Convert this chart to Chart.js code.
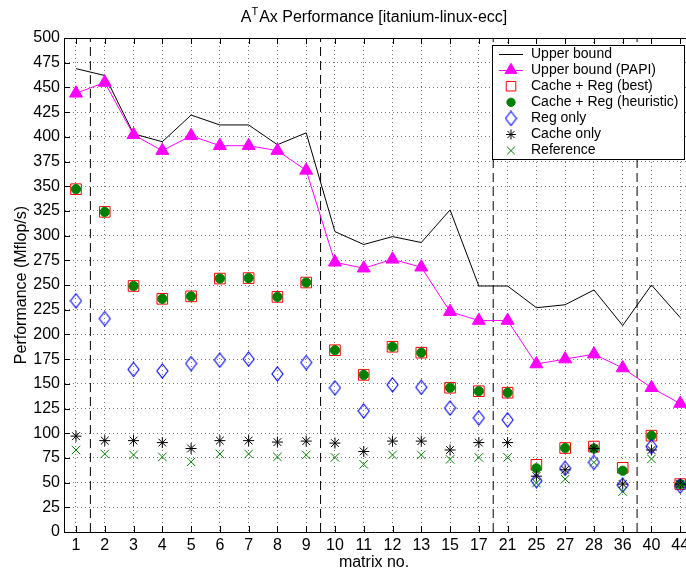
<!DOCTYPE html>
<html>
<head>
<meta charset="utf-8">
<script src="https://cdn.jsdelivr.net/npm/chart.js@4"></script>
<style>
  html, body { margin: 0; padding: 0; background: #fff; overflow: hidden; }
</style>
</head>
<body>
<canvas id="perfChart" width="686" height="578"></canvas>
<script>
// matrix numbers on the x axis (one category per slot)
const matrices = ["1", "2", "3", "4", "5", "6", "7", "8", "9", "10", "11",
  "12", "13", "15", "17", "21", "25", "27", "28", "36", "40", "44"];
// Mflop/s per matrix
const upperBound = [469, 462, 403, 395, 422, 412, 412, 392, 404, 304, 291,
  299, 293, 326, 249, 249, 227, 230, 245, 209, 250, 217];
const upperBoundPapi = [444, 455, 402, 386, 401, 391, 391, 386, 366, 273, 267,
  276, 268, 223, 214, 214, 170, 175, 180, 166, 146, 130];
const cacheRegBest = [347, 324, 249, 236, 238.5, 256.5, 257, 238, 252.5, 184, 159,
  187.5, 181.5, 146, 142.5, 141, 68, 85, 86.5, 65, 97.5, 48.5];
const cacheRegHeuristic = [347, 324, 249, 236, 238.5, 256.5, 257, 238, 252.5, 184, 159,
  187.5, 181.5, 146, 142.5, 141, 64.5, 85, 84.5, 62, 97.5, 48.5];
const regOnly = [234, 216, 164.5, 163, 170.5, 174, 175, 160, 171.5, 146, 122.5,
  149, 146.5, 125.5, 115.5, 113.5, 52, 64.5, 70.5, 47.5, 86.5, 46.5];
const cacheOnly = [97, 92.5, 92.5, 90.5, 84.5, 92.5, 92.5, 91, 92, 90, 81.5,
  92, 92, 83, 90.5, 90.5, 56.5, 63, 84.5, 48.5, 83, 48.5];
const reference = [83, 79, 78, 76, 71, 79, 79, 76, 78, 75.5, 68.5,
  78, 78, 73.5, 75.5, 75.5, 49.5, 53.5, 70.5, 41, 74, 47.5];
// dashed separators between matrix groups (in slot units)
const dividers = [1.5, 9.5, 15.5, 20.5];
const yMin = 0, yMax = 500, yStep = 25;

const FONT = "'Liberation Sans', Arial, Helvetica, sans-serif";
const toPoints = (arr) => arr.map((v, i) => ({ x: i + 1, y: v }));

// tall thin diamond like the matlab marker
function makeDiamond(w, h, color) {
  const c = document.createElement("canvas");
  c.width = w + 2;
  c.height = h + 2;
  const g = c.getContext("2d");
  g.strokeStyle = color;
  g.lineWidth = 1.1;
  g.beginPath();
  g.moveTo(c.width / 2, 1);
  g.lineTo(c.width - 1, c.height / 2);
  g.lineTo(c.width / 2, c.height - 1);
  g.lineTo(1, c.height / 2);
  g.closePath();
  g.stroke();
  return c;
}
const diamond = makeDiamond(11, 14, "#0000ff");

const series = [
  { label: "Upper bound", data: toPoints(upperBound), showLine: true,
    borderColor: "#000", backgroundColor: "#000", borderWidth: 1,
    pointRadius: 0, pointStyle: false, order: 7 },
  { label: "Upper bound (PAPI)", data: toPoints(upperBoundPapi), showLine: true,
    borderColor: "#ff00ff", backgroundColor: "#ff00ff", borderWidth: 1,
    pointStyle: "triangle", pointRadius: 7.5, pointBorderWidth: 1, order: 6 },
  { label: "Cache + Reg (best)", data: toPoints(cacheRegBest), showLine: false,
    borderColor: "#ff0000", backgroundColor: "rgba(0,0,0,0)", borderWidth: 1,
    pointStyle: "rect", pointRadius: 7.5, order: 5 },
  { label: "Cache + Reg (heuristic)", data: toPoints(cacheRegHeuristic), showLine: false,
    borderColor: "#008000", backgroundColor: "#008000", borderWidth: 1,
    pointStyle: "circle", pointRadius: 4.6, order: 4 },
  { label: "Reg only", data: toPoints(regOnly), showLine: false,
    borderColor: "#0000ff", backgroundColor: "rgba(0,0,0,0)", borderWidth: 1,
    pointStyle: diamond, pointRadius: 6, order: 3 },
  { label: "Cache only", data: toPoints(cacheOnly), showLine: false,
    borderColor: "#000", backgroundColor: "#000", borderWidth: 1,
    pointStyle: "star", pointRadius: 5.5, order: 2 },
  { label: "Reference", data: toPoints(reference), showLine: false,
    borderColor: "#008000", backgroundColor: "#008000", borderWidth: 1,
    pointStyle: "crossRot", pointRadius: 6, order: 1 },
];

const dividerSets = dividers.map((x) => ({
  label: "", data: [{ x: x, y: yMin }, { x: x, y: yMax }], showLine: true,
  borderColor: "#000", borderWidth: 1, borderDash: [9, 5],
  pointRadius: 0, order: 8,
}));

// title with superscript T, x labels and title, frame, inward ticks, legend
const matlabLook = {
  id: "matlabLook",
  afterDraw(chart) {
    const ctx = chart.ctx;
    const area = chart.chartArea;
    const xs = chart.scales.x, ys = chart.scales.y;
    const cx = 374; // visible centre of the axes
    ctx.save();

    // title
    const ty = 18;
    const big = "16px " + FONT, small = "11px " + FONT;
    const rest = "Ax Performance [itanium-linux-ecc]";
    ctx.font = big;
    const wA = ctx.measureText("A").width, wRest = ctx.measureText(rest).width;
    ctx.font = small;
    const wT = ctx.measureText("T").width;
    let tx = cx - (wA + wT + 1 + wRest) / 2;
    ctx.fillStyle = "#000";
    ctx.textBaseline = "middle";
    ctx.textAlign = "left";
    ctx.font = big;
    ctx.fillText("A", tx, ty);
    ctx.font = small;
    ctx.fillText("T", tx + wA, ty - 6);
    ctx.font = big;
    ctx.fillText(rest, tx + wA + wT + 1, ty);

    // x tick labels (matrix numbers) placed by the x scale, and x title
    ctx.textAlign = "center";
    matrices.forEach((m, i) => {
      ctx.fillText(m, xs.getPixelForValue(i + 1), 546);
    });
    ctx.fillText("matrix no.", cx, 563);

    // top frame line and inward ticks
    ctx.strokeStyle = "#000";
    ctx.lineWidth = 1;
    ctx.beginPath();
    ctx.moveTo(area.left, area.top + 0.5);
    ctx.lineTo(area.right, area.top + 0.5);
    matrices.forEach((m, i) => {
      const px = Math.round(xs.getPixelForValue(i + 1)) + 0.5;
      ctx.moveTo(px, area.bottom);
      ctx.lineTo(px, area.bottom - 6);
      ctx.moveTo(px, area.top);
      ctx.lineTo(px, area.top + 6);
    });
    for (let v = yMin; v <= yMax; v += yStep) {
      const py = Math.round(ys.getPixelForValue(v)) + 0.5;
      ctx.moveTo(area.left, py);
      ctx.lineTo(area.left + 6, py);
    }
    ctx.stroke();

    // legend box
    const bx = 492, by = 45, bw = 193, bh = 115;
    ctx.fillStyle = "#fff";
    ctx.fillRect(bx, by, bw, bh);
    ctx.strokeRect(bx + 0.5, by + 0.5, bw - 1, bh - 1);
    ctx.font = "14px " + FONT;
    series.forEach((ds, i) => {
      const ly = 54 + i * 16.1, mx = 511;
      if (ds.showLine) {
        ctx.strokeStyle = ds.borderColor;
        ctx.lineWidth = 1;
        ctx.beginPath();
        ctx.moveTo(mx - 12, Math.round(ly) + 0.5);
        ctx.lineTo(mx + 12, Math.round(ly) + 0.5);
        ctx.stroke();
      }
      if (ds.pointStyle) {
        ctx.save();
        ctx.strokeStyle = ds.borderColor;
        ctx.fillStyle = ds.backgroundColor;
        ctx.lineWidth = 1;
        Chart.helpers.drawPoint(ctx, {
          pointStyle: ds.pointStyle, radius: ds.pointRadius * 0.9,
          rotation: 0, borderWidth: 1,
        }, mx, ly);
        ctx.restore();
      }
      ctx.fillStyle = "#000";
      ctx.textAlign = "left";
      ctx.textBaseline = "middle";
      ctx.fillText(ds.label, 531, ly);
    });
    ctx.restore();
  },
};

const ctx = document.getElementById("perfChart").getContext("2d");
const perfChart = new Chart(ctx, {
  type: "scatter",
  data: { datasets: series.concat(dividerSets) },
  options: {
    responsive: false,
    animation: false,
    devicePixelRatio: 1,
    layout: { autoPadding: false, padding: { top: 38, right: 0, bottom: 0, left: 0 } },
    plugins: {
      legend: { display: false },
      title: { display: false },
      tooltip: { enabled: false },
    },
    scales: {
      x: {
        type: "linear",
        min: 0.583,
        max: 22.2,
        afterBuildTicks: (axis) => {
          axis.ticks = matrices.map((m, i) => ({ value: i + 1 }));
        },
        afterFit: (axis) => { axis.height = 46; },
        ticks: { display: false },
        grid: { color: "rgba(0,0,0,0.55)", drawTicks: false, lineWidth: 1 },
        border: { color: "#000", width: 1, dash: [1, 3] },
      },
      y: {
        min: yMin,
        max: yMax,
        afterFit: (axis) => { axis.width = 64; },
        ticks: {
          stepSize: yStep,
          padding: 4,
          color: "#000",
          font: { family: FONT, size: 16 },
        },
        grid: { color: "rgba(0,0,0,0.55)", drawTicks: false, lineWidth: 1 },
        border: { color: "#000", width: 1, dash: [1, 3] },
        title: {
          display: true,
          text: "Performance (Mflop/s)",
          color: "#000",
          font: { family: FONT, size: 16 },
          padding: { top: 12, bottom: 0 },
        },
      },
    },
  },
  plugins: [matlabLook],
});
</script>
</body>
</html>
